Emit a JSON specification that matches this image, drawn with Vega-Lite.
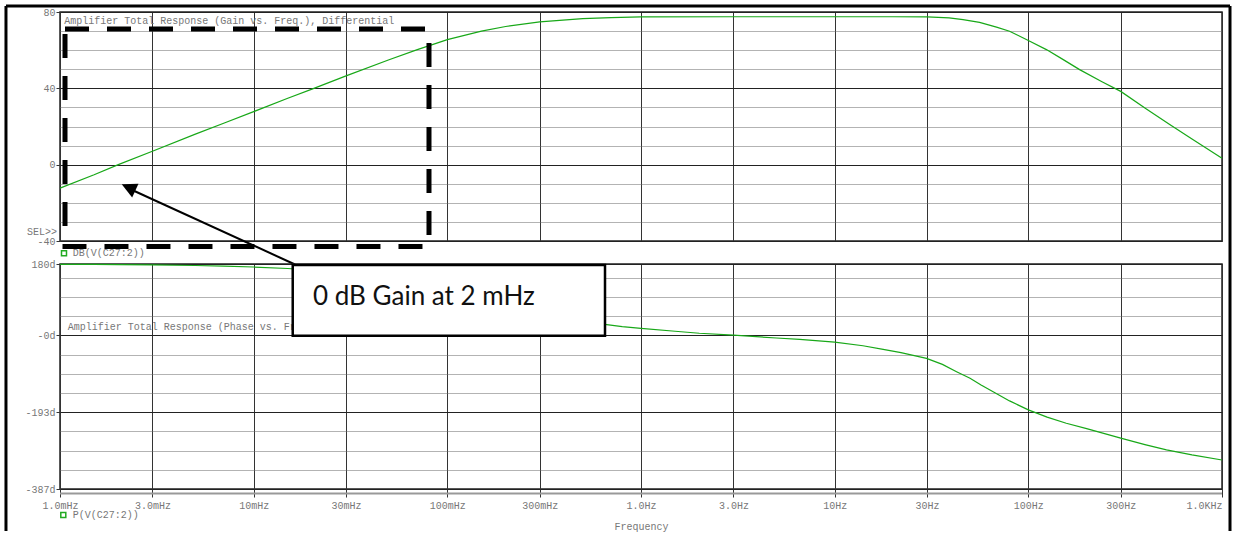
{
  "$schema": "https://vega.github.io/schema/vega-lite/v6.json",
  "padding": {"left": 3, "top": 3, "right": 0, "bottom": 0},
  "background": "white",
  "bounds": "flush",
  "spacing": 23,
  "config": {
    "view": {"stroke": "#222", "strokeWidth": 1.5},
    "axis": {"labelFont": "Liberation Mono", "labelFontSize": 10, "labelColor": "#777", "titleFont": "Liberation Mono", "titleFontSize": 10, "titleFontWeight": "normal", "titleColor": "#777"}
  },
  "datasets": {
    "gain": [
      {"f": 0.001, "v": -12.3}, {"f": 0.0015, "v": -5.3}, {"f": 0.002, "v": 0.0}, {"f": 0.003, "v": 7.0},
      {"f": 0.005, "v": 16.0}, {"f": 0.007, "v": 21.7}, {"f": 0.01, "v": 27.8}, {"f": 0.015, "v": 34.8},
      {"f": 0.02, "v": 39.6}, {"f": 0.03, "v": 46.5}, {"f": 0.05, "v": 55.0}, {"f": 0.07, "v": 60.3},
      {"f": 0.1, "v": 65.5}, {"f": 0.15, "v": 70.0}, {"f": 0.2, "v": 72.4}, {"f": 0.3, "v": 74.8},
      {"f": 0.5, "v": 76.5}, {"f": 0.7, "v": 77.1}, {"f": 1, "v": 77.4}, {"f": 3, "v": 77.5},
      {"f": 10, "v": 77.5}, {"f": 20, "v": 77.5}, {"f": 30, "v": 77.4}, {"f": 39, "v": 76.9},
      {"f": 46, "v": 76.0}, {"f": 56, "v": 74.6}, {"f": 68.5, "v": 72.1}, {"f": 80, "v": 69.9},
      {"f": 100, "v": 65.1}, {"f": 124, "v": 60.3}, {"f": 150, "v": 55.3}, {"f": 184, "v": 49.8},
      {"f": 240, "v": 43.5}, {"f": 300, "v": 38.4}, {"f": 407, "v": 29.2}, {"f": 537, "v": 21.0},
      {"f": 700, "v": 13.5}, {"f": 1000, "v": 3.3}
    ],
    "phase": [
      {"f": 0.001, "v": 179.2}, {"f": 0.0015, "v": 178.9}, {"f": 0.002, "v": 178.5}, {"f": 0.003, "v": 177.7},
      {"f": 0.005, "v": 176.2}, {"f": 0.007, "v": 174.7}, {"f": 0.01, "v": 172.4}, {"f": 0.015, "v": 168.6},
      {"f": 0.02, "v": 164.8}, {"f": 0.03, "v": 157.4}, {"f": 0.05, "v": 143.1}, {"f": 0.07, "v": 130.0},
      {"f": 0.1, "v": 112.6}, {"f": 0.15, "v": 90.0}, {"f": 0.2, "v": 73.5}, {"f": 0.3, "v": 52.8},
      {"f": 0.5, "v": 33.0}, {"f": 0.65, "v": 27.8}, {"f": 0.8, "v": 22.0}, {"f": 1, "v": 17.6},
      {"f": 1.5, "v": 10.5}, {"f": 2, "v": 5.5}, {"f": 3, "v": 0.7}, {"f": 5, "v": -6.5},
      {"f": 6.6, "v": -10.1}, {"f": 10, "v": -16.8}, {"f": 14, "v": -26.0}, {"f": 17.8, "v": -35.3},
      {"f": 22, "v": -43.5}, {"f": 29.8, "v": -57.9}, {"f": 36, "v": -73.0}, {"f": 42.6, "v": -91.4},
      {"f": 50, "v": -108.0}, {"f": 57, "v": -125.0}, {"f": 65.8, "v": -141.7}, {"f": 80, "v": -165.0},
      {"f": 100, "v": -187.7}, {"f": 125, "v": -206.0}, {"f": 157, "v": -221.2}, {"f": 200, "v": -235.0},
      {"f": 300, "v": -258.9}, {"f": 400, "v": -275.0}, {"f": 517, "v": -288.2}, {"f": 700, "v": -301.0},
      {"f": 1000, "v": -314.0}
    ],
    "frame": [
      {"f": 0.0005261, "v": 83.14, "f2": 0.0005261, "v2": -192.0},
      {"f": 1099.8, "v": 83.14, "f2": 1099.8, "v2": -192.0},
      {"f": 0.0005261, "v": 83.14, "f2": 1099.8, "v2": 83.14}
    ],
    "dashbox": [{"f": 0.0010613, "v": 71.09, "f2": 0.08041, "v2": -42.88}],
    "arrow": [{"f": 0.01635, "v": -52.3, "f2": 0.002297, "v2": -12.75}],
    "arrowhead": [{"f": 0.002083, "v": -10.29}],
    "topText": [
      {"f": 0.001052, "v": 75.28, "t": "Amplifier Total Response (Gain vs. Freq.), Differential"},
      {"f": 0.0011627, "v": -46.45, "t": "DB(V(C27:2))"}
    ],
    "sel": [{"f": 0.000965, "v": -35.13, "t": "SEL>>"}],
    "topSquare": [{"f": 0.0010487, "v": -46.45}],
    "boxRect": [{"f": 0.01591, "v": 177.5, "f2": 0.6518, "v2": -1}],
    "boxText": [{"f": 0.02025, "v": 76.7, "t": "0 dB Gain at 2 mHz"}],
    "botText": [
      {"f": 0.0010958, "v": 20.5, "t": "Amplifier Total Response (Phase vs. Freq.), Differential"},
      {"f": 0.0011627, "v": -452.5, "t": "P(V(C27:2))"}
    ],
    "botSquare": [{"f": 0.00104, "v": -452.5}],
    "baseLine": [{"f": 0.001, "v": -398.3, "f2": 1000, "v2": -398.3}]
  },
  "vconcat": [
    {
      "width": 1162,
      "height": 229,
      "encoding": {
        "x": {
          "field": "f", "type": "quantitative",
          "scale": {"type": "log", "domain": [0.001, 1000], "nice": false},
          "axis": {"values": [0.001, 0.003, 0.01, 0.03, 0.1, 0.3, 1, 3, 10, 30, 100, 300, 1000], "grid": true, "gridColor": "#333", "gridWidth": 1, "labels": false, "ticks": false, "domain": false, "title": null}
        },
        "y": {
          "field": "v", "type": "quantitative",
          "scale": {"domain": [-40, 80], "nice": false, "zero": false},
          "axis": {
            "values": [-40, -30, -20, -10, 0, 10, 20, 30, 40, 50, 60, 70, 80],
            "grid": true,
            "gridColor": {"condition": {"test": "datum.value % 40 === 0", "value": "#222"}, "value": "#666"},
            "gridDash": {"condition": {"test": "datum.value % 40 === 0", "value": []}, "value": [1, 1]},
            "labelExpr": "datum.value % 40 === 0 ? '' + datum.value : ''",
            "tickSize": 4, "tickColor": "#333",
            "tickOpacity": {"condition": {"test": "datum.value % 40 === 0", "value": 1}, "value": 0},
            "labelPadding": 1, "domain": false, "title": null
          }
        }
      },
      "layer": [
        {"data": {"name": "frame"}, "mark": {"type": "rule", "color": "black", "strokeWidth": 3}, "encoding": {"x2": {"field": "f2"}, "y2": {"field": "v2"}}},
        {"data": {"name": "gain"}, "mark": {"type": "line", "color": "#18a818", "strokeWidth": 1.2}},
        {"data": {"name": "topText"}, "mark": {"type": "text", "font": "Liberation Mono", "fontSize": 10, "color": "#777", "align": "left", "baseline": "middle"}, "encoding": {"text": {"field": "t"}}},
        {"data": {"name": "sel"}, "mark": {"type": "text", "font": "Liberation Mono", "fontSize": 10, "color": "#777", "align": "right", "baseline": "middle"}, "encoding": {"text": {"field": "t"}}},
        {"data": {"name": "topSquare"}, "mark": {"type": "point", "shape": "square", "filled": false, "color": "#22aa22", "size": 25, "strokeWidth": 1.5, "opacity": 1}},
        {"data": {"name": "dashbox"}, "mark": {"type": "rect", "filled": false, "color": "black", "strokeWidth": 5, "strokeDash": [24, 18]}, "encoding": {"x2": {"field": "f2"}, "y2": {"field": "v2"}}},
        {"data": {"name": "arrow"}, "mark": {"type": "rule", "color": "black", "strokeWidth": 2}, "encoding": {"x2": {"field": "f2"}, "y2": {"field": "v2"}}},
        {"data": {"name": "arrowhead"}, "mark": {"type": "point", "shape": "M0,0L-0.5,1L0.5,1Z", "size": 900, "angle": 294.9, "filled": true, "color": "black", "opacity": 1}}
      ]
    },
    {
      "width": 1162,
      "height": 225,
      "encoding": {
        "x": {
          "field": "f", "type": "quantitative",
          "scale": {"type": "log", "domain": [0.001, 1000], "nice": false},
          "axis": {
            "values": [0.001, 0.003, 0.01, 0.03, 0.1, 0.3, 1, 3, 10, 30, 100, 300, 1000],
            "grid": true, "gridColor": "#333", "gridWidth": 1,
            "labelExpr": "['1.0mHz','3.0mHz','10mHz','30mHz','100mHz','300mHz','1.0Hz','3.0Hz','10Hz','30Hz','100Hz','300Hz','1.0KHz'][round((log(datum.value)/LN10+3)*2)]",
            "labelAlign": {"condition": {"test": "datum.value >= 999", "value": "right"}, "value": "center"},
            "tickSize": 8, "tickColor": "#333", "labelPadding": 3, "domain": false,
            "title": "Frequency", "titlePadding": 11
          }
        },
        "y": {
          "field": "v", "type": "quantitative",
          "scale": {"domain": [-387, 180], "nice": false, "zero": false},
          "axis": {
            "values": [180, 145.125, 96.75, 48.375, 0, -48.375, -96.75, -145.125, -193.5, -241.875, -290.25, -338.625, -387],
            "grid": true,
            "gridColor": {"condition": {"test": "datum.value > 170 || abs(datum.value) < 1 || abs(datum.value + 193.5) < 1 || datum.value < -380", "value": "#222"}, "value": "#666"},
            "gridDash": {"condition": {"test": "datum.value > 170 || abs(datum.value) < 1 || abs(datum.value + 193.5) < 1 || datum.value < -380", "value": []}, "value": [1, 1]},
            "labelExpr": "datum.value > 170 ? '180d' : abs(datum.value) < 1 ? '-0d' : abs(datum.value + 193.5) < 1 ? '-193d' : datum.value < -380 ? '-387d' : ''",
            "tickSize": 4, "tickColor": "#333",
            "tickOpacity": {"condition": {"test": "datum.value > 170 || abs(datum.value) < 1 || abs(datum.value + 193.5) < 1 || datum.value < -380", "value": 1}, "value": 0},
            "labelPadding": 1, "domain": false, "title": null
          }
        }
      },
      "layer": [
        {"data": {"name": "baseLine"}, "mark": {"type": "rule", "color": "#999", "strokeWidth": 2}, "encoding": {"x2": {"field": "f2"}, "y2": {"field": "v2"}}},
        {"data": {"name": "phase"}, "mark": {"type": "line", "color": "#18a818", "strokeWidth": 1.2}},
        {"data": {"name": "botText"}, "mark": {"type": "text", "font": "Liberation Mono", "fontSize": 10, "color": "#777", "align": "left", "baseline": "middle"}, "encoding": {"text": {"field": "t"}}},
        {"data": {"name": "botSquare"}, "mark": {"type": "point", "shape": "square", "filled": false, "color": "#22aa22", "size": 25, "strokeWidth": 1.5, "opacity": 1}},
        {"data": {"name": "boxRect"}, "mark": {"type": "rect", "fill": "white", "stroke": "black", "strokeWidth": 2.5}, "encoding": {"x2": {"field": "f2"}, "y2": {"field": "v2"}}},
        {"data": {"name": "boxText"}, "mark": {"type": "text", "font": "Lato", "fontSize": 26, "color": "#111", "align": "left", "baseline": "alphabetic"}, "encoding": {"text": {"field": "t"}}}
      ]
    }
  ]
}
